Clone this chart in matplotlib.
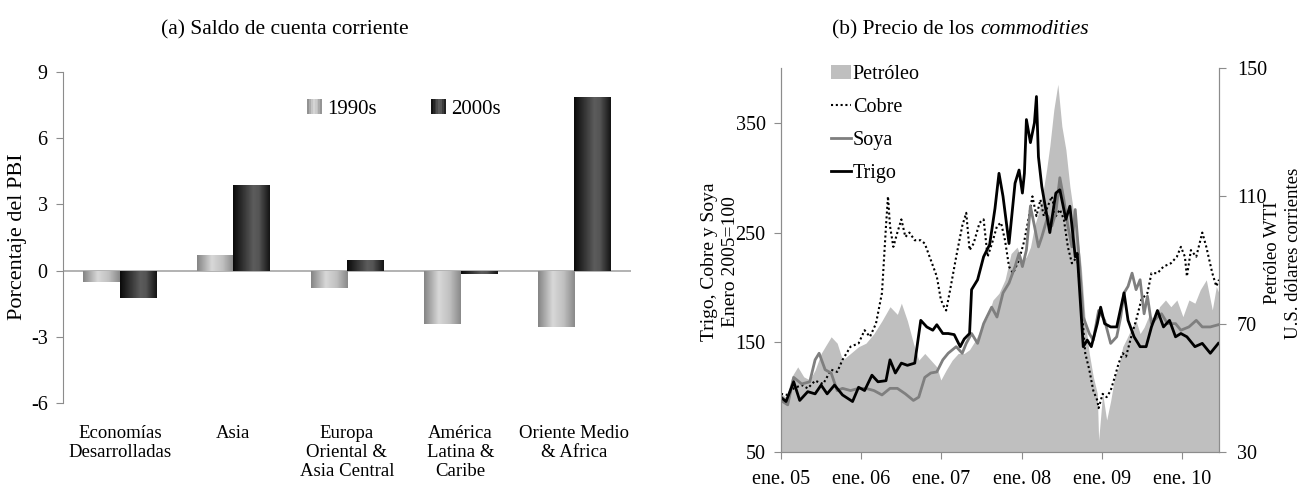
import numpy as np
import matplotlib
matplotlib.use("Agg")
import matplotlib.pyplot as plt
from matplotlib.colors import LinearSegmentedColormap
from matplotlib.patches import Rectangle
from matplotlib.legend_handler import HandlerBase
from matplotlib.patches import Patch

plt.rcParams['font.family'] = ['Liberation Serif', 'DejaVu Serif']

# ---------------- data: panel (a) ----------------
regions = ["Economías\nDesarrolladas", "Asia", "Europa\nOriental &\nAsia Central",
           "América\nLatina &\nCaribe", "Oriente Medio\n& Africa"]
saldo_1990s = [-0.5, 0.7, -0.8, -2.4, -2.55]
saldo_2000s = [-1.25, 3.9, 0.5, -0.15, 7.85]
series_a = ["1990s", "2000s"]
yticks_a = [-6, -3, 0, 3, 6, 9]

# ---------------- data: panel (b) ----------------
# x = months since January 2005
xtick_labels = ["ene. 05", "ene. 06", "ene. 07", "ene. 08", "ene. 09", "ene. 10"]

trigo_m = [0, 0.75, 1.9, 2.8, 4, 5.1, 6, 6.9, 8, 9.2, 10.7, 11.6, 12.5, 13.6, 14.5, 15.7,
           16.3, 17.1, 18, 18.9, 20, 20.9, 21.8, 22.7, 23.3, 24.2, 25, 25.9, 26.8, 27.4,
           28.2, 28.5, 29.4, 30.3, 31.2, 32, 32.6, 33.2, 34.1, 35, 35.6, 36.1, 36.4, 36.7,
           37.3, 37.9, 38.2, 38.5, 39, 40.2, 41.1, 41.7, 42.6, 43.2, 44, 44.3, 45.2, 45.8,
           46.4, 47.3, 47.8, 48.4, 49.3, 50.2, 50.8, 51.3, 51.9, 52.8, 53.7, 54.6, 55.4,
           56.3, 57.2, 58.1, 59, 59.8, 60.7, 61.9, 63, 64.2, 65.4]
trigo_v = [100, 96, 114, 97, 105, 103, 111, 103, 111, 102, 96, 109, 106, 120, 114, 115,
           134, 122, 131, 129, 131, 170, 164, 161, 166, 158, 158, 157, 146, 153,
           158, 198, 207, 228, 239, 272, 304, 283, 240, 295, 307, 286, 304, 353,
           332, 350, 374, 319, 292, 250, 286, 289, 262, 274, 228, 231, 146, 152,
           146, 167, 182, 167, 164, 164, 181, 195, 170, 155, 146, 146, 164,
           179, 164, 170, 155, 158, 155, 146, 149, 140, 149]

soya_m = [0, 1, 1.9, 3.1, 4.3, 5.1, 5.7, 6.6, 7.5, 8.4, 9.2, 10.4, 11.6, 12.7, 13.9, 15.1,
          16.3, 17.4, 18.6, 19.8, 20.6, 21.5, 22.4, 23.3, 24.2, 25, 26.2, 27.1, 27.7, 28.5,
          29.4, 30.3, 31.5, 32.3, 33.2, 34.1, 35, 35.6, 36.1, 36.7, 37.3, 37.9, 38.5, 39,
          39.9, 40.5, 41.1, 41.7, 42.3, 42.9, 43.5, 44, 44.6, 45.2, 46.1, 46.7, 47.5, 48.4,
          49.3, 50.2, 50.8, 51.3, 51.9, 52.5, 53.1, 53.7, 54.3, 54.8, 55.4, 56.3, 56.9,
          57.8, 59, 59.8, 61, 62.1, 63, 64.2, 65.4]
soya_v = [97, 93, 118, 112, 114, 134, 140, 125, 122, 106, 108, 106, 108, 108, 106, 102,
          108, 108, 103, 97, 100, 118, 122, 123, 134, 140, 146, 140, 149, 158,
          149, 167, 182, 173, 195, 204, 219, 231, 219, 234, 274, 256, 237, 246,
          265, 256, 268, 300, 280, 256, 237, 271, 225, 173, 158, 152, 179, 170,
          149, 155, 173, 195, 201, 213, 198, 207, 176, 192, 167, 173, 176,
          167, 167, 161, 164, 170, 164, 164, 166]

cobre_m = [0, 1, 1.9, 3.1, 4, 5.1, 6.3, 7.5, 8.4, 9.2, 10.4, 11.6, 12.5, 13.3, 14.2, 15.1,
           15.7, 16, 16.3, 16.8, 17.4, 18, 18.6, 19.2, 20, 20.9, 21.5, 22.4, 23.3, 23.9,
           24.4, 24.7, 25.3, 26.2, 27.1, 27.7, 28.2, 28.8, 29.7, 30.3, 30.9, 31.7, 32.3,
           32.9, 33.5, 34.1, 34.7, 35.6, 36.4, 37, 37.6, 38.2, 38.8, 39.3, 39.9, 40.5,
           41.1, 41.7, 42.3, 42.9, 43.5, 44.3, 44.9, 45.5, 46.1, 46.7, 47.3, 47.5, 48.1,
           48.7, 49.3, 49.9, 50.5, 51.1, 51.6, 52.5, 53.1, 53.9, 54.8, 55.4, 56.3, 57.2,
           58.3, 59.2, 59.8, 60.4, 60.7, 61.3, 62.1, 63, 63.6, 64.5, 65.1, 65.5]
cobre_v = [103, 102, 108, 111, 108, 115, 112, 125, 123, 134, 146, 149, 161, 155, 167, 195,
           256, 283, 256, 237, 250, 262, 246, 250, 243, 243, 240, 225, 210, 189,
           182, 179, 198, 228, 256, 268, 234, 240, 259, 262, 228, 243, 256,
           259, 243, 219, 213, 225, 243, 262, 283, 265, 280, 265, 274, 283,
           265, 271, 262, 237, 222, 228, 186, 140, 125, 106, 97, 90, 103,
           100, 106, 118, 131, 140, 137, 158, 170, 189, 195, 213, 213, 219,
           222, 228, 237, 228, 210, 234, 228, 250, 237, 213, 201, 207]

petroleo_m = [0, 0.8, 1.6, 2.5, 3.4, 4.3, 5.1, 6, 6.6, 7.5, 8.4, 9.2, 10.4, 11.6, 12.7,
              13.9, 15.1, 16.3, 17.4, 18, 18.9, 19.8, 20.6, 21.5, 22.4, 23.3, 23.9, 24.7,
              25.6, 26.5, 27.4, 28.2, 29.1, 30, 30.9, 31.7, 32.6, 33.5, 34.4, 35.3, 36.1,
              36.7, 37.3, 37.9, 38.5, 39, 39.7, 40.2, 40.8, 41.4, 42, 42.6, 43.2, 43.7,
              44.3, 44.9, 45.5, 46.1, 46.7, 47.3, 47.5, 48.1, 48.7, 49.3, 49.9, 50.5,
              51.1, 51.6, 52.5, 53.1, 53.7, 54.3, 55.1, 56, 56.6, 57.5, 58.3, 59.2,
              60.1, 61, 61.9, 62.7, 63.6, 64.5, 65.1, 65.5]
petroleo_v = [48.3, 47, 53.5, 56.6, 53.5, 52.5, 55.6, 60.8, 62.9, 66, 64, 58.7, 60.8, 62.9, 64,
              67, 71, 75.4, 73, 76.5, 71, 64, 58.7, 60.8, 58.7, 56.6, 52.5, 55.6,
              58.7, 60.8, 60.8, 62, 65, 69, 72.3, 77.5, 79.6, 83.8, 92, 94, 90,
              91, 94, 100.5, 104.7, 108.9, 118, 125.6, 137, 144.9, 131.8, 124.5, 113, 105.7,
              98.4, 88, 71, 60.8, 53.5, 48.3, 33.7, 48.3, 40, 46, 53.5, 56.6,
              62.9, 65, 69, 71, 67, 69, 73, 71, 75.4, 77.5, 75.4, 77.5,
              72.3, 77.5, 76.5, 80.7, 83.8, 74.4, 81.7, 79.6]

# ---------------- figure ----------------
fig = plt.figure(figsize=(13.05, 4.93), dpi=100)
axis_grey = "#8c8c8c"
W, H = 1305, 493

# ---------- panel (a) ----------
ax = fig.add_axes([63/W, (H-403)/H, (631-63)/W, (403-72)/H])
x = np.arange(len(regions))
bw = 0.32
b1 = ax.bar(x - bw/2, saldo_1990s, bw, color="none", edgecolor="none", zorder=2)
b2 = ax.bar(x + bw/2, saldo_2000s, bw, color="none", edgecolor="none", zorder=2)

cmap90 = LinearSegmentedColormap.from_list("g90", [(0, "#858585"), (0.4, "#d8d8d8"),
                                                    (0.7, "#c0c0c0"), (1, "#8a8a8a")])
cmap00 = LinearSegmentedColormap.from_list("g00", [(0, "#0a0a0a"), (0.55, "#5c5c5c"),
                                                    (0.7, "#555555"), (1, "#151515")])
grad = np.linspace(0, 1, 64).reshape(1, -1)
for bars, cm in ((b1, cmap90), (b2, cmap00)):
    for p in bars:
        x0, y0 = p.get_x(), p.get_y()
        w, h = p.get_width(), p.get_height()
        im = ax.imshow(grad, cmap=cm, aspect="auto",
                       extent=(x0, x0 + w, min(y0, y0 + h), max(y0, y0 + h)),
                       zorder=2, interpolation="bilinear")
        im.set_clip_path(p)

ax.axhline(0, color="#a6a6a6", lw=1.2, zorder=1)
ax.set_xlim(-0.5, len(regions) - 0.5)
ax.set_ylim(-6, 9)
ax.set_yticks(yticks_a)
ax.set_yticklabels([str(t) for t in yticks_a], fontsize=14.5)
ax.set_xticks(x)
ax.set_xticklabels(regions, fontsize=13.5, linespacing=1.15)
ax.tick_params(axis="x", length=0, pad=16)
ax.tick_params(axis="y", length=5, color=axis_grey, pad=6)
for s in ("top", "right", "bottom"):
    ax.spines[s].set_visible(False)
ax.spines["left"].set_color(axis_grey)
fig.text(18/W, 1 - 237/H, "Porcentaje del PBI", rotation=90, ha="center", va="center",
         fontsize=16)


class GradHandler(HandlerBase):
    def __init__(self, cmap):
        super().__init__()
        self.cmap = cmap

    def create_artists(self, legend, orig_handle, xdescent, ydescent, width, height,
                       fontsize, trans):
        arts = []
        n = 8
        s = height * 1.0
        x0 = xdescent + width - s
        y0 = -ydescent + (height - s) / 2
        for i in range(n):
            r = Rectangle((x0 + i * s / n, y0), s / n, s,
                          facecolor=self.cmap((i + 0.5) / n), edgecolor="none",
                          transform=trans)
            arts.append(r)
        return arts


h1 = Patch(label=series_a[0])
h2 = Patch(label=series_a[1])
ax.legend([h1, h2], series_a, ncol=2, frameon=False, fontsize=15,
          handler_map={h1: GradHandler(cmap90), h2: GradHandler(cmap00)},
          loc="upper left", bbox_to_anchor=(0.39, 0.975), handlelength=0.9,
          handletextpad=0.25, columnspacing=2.4)

fig.text(285/W, 1 - 30/H, "(a) Saldo de cuenta corriente", ha="center", va="center",
         fontsize=15.5)

# ---------- panel (b) ----------
axl = fig.add_axes([781/W, (H-452)/H, (1219-781)/W, (452-68)/H])
axo = axl.twinx()
axl.set_zorder(2)
axo.set_zorder(1)
axl.patch.set_visible(False)

axo.fill_between(petroleo_m, petroleo_v, 30, color="#bfbfbf", lw=0, label="Petróleo")
axo.set_ylim(30, 150)
axo.set_yticks([30, 70, 110, 150])
axo.set_yticklabels(["30", "70", "110", "150"], fontsize=14.5)

axl.plot(cobre_m, cobre_v, color="black", lw=1.5, ls=(0, (1, 1.3)), label="Cobre")
axl.plot(soya_m, soya_v, color="#7f7f7f", lw=2.0, label="Soya")
axl.plot(trigo_m, trigo_v, color="black", lw=2.0, label="Trigo")
axl.set_ylim(50, 400)
axl.set_yticks([50, 150, 250, 350])
axl.set_yticklabels(["50", "150", "250", "350"], fontsize=14.5)
axl.set_xlim(0, 65.5)
axl.set_xticks([0, 12, 24, 36, 48, 60])
axl.set_xticklabels(xtick_labels, fontsize=14.5)

for a in (axl, axo):
    a.spines["top"].set_visible(False)
    for s in ("left", "right", "bottom"):
        a.spines[s].set_color(axis_grey)
    a.tick_params(color=axis_grey, length=5)
axl.tick_params(axis="x", pad=8)
axl.tick_params(axis="y", pad=6)
axo.tick_params(axis="y", pad=8)

fig.text(720/W, 1 - 262/H, "Trigo, Cobre y Soya\nEnero 2005=100", rotation=90,
         ha="center", va="center", fontsize=14, linespacing=1.25)
fig.text(1283/W, 1 - 253/H, "Petróleo WTI\nU.S. dólares corrientes", rotation=90,
         ha="center", va="center", fontsize=13.5, linespacing=1.25)

handles = [Patch(facecolor="#bfbfbf", edgecolor="none", label="Petróleo")]
handles += axl.get_lines()
axl.legend(handles=handles, loc="upper left", bbox_to_anchor=(0.095, 1.03), frameon=False,
           fontsize=14.5, handlelength=1.0, handletextpad=0.1, labelspacing=0.7,
           borderaxespad=0)

fig.text(980/W, 1 - 30/H, "(b) Precio de los ", ha="right", va="center", fontsize=15.5)
fig.text(980/W, 1 - 30/H, "commodities", ha="left", va="center", fontsize=15.5,
         style="italic")

fig.savefig("out.png", dpi=100)
